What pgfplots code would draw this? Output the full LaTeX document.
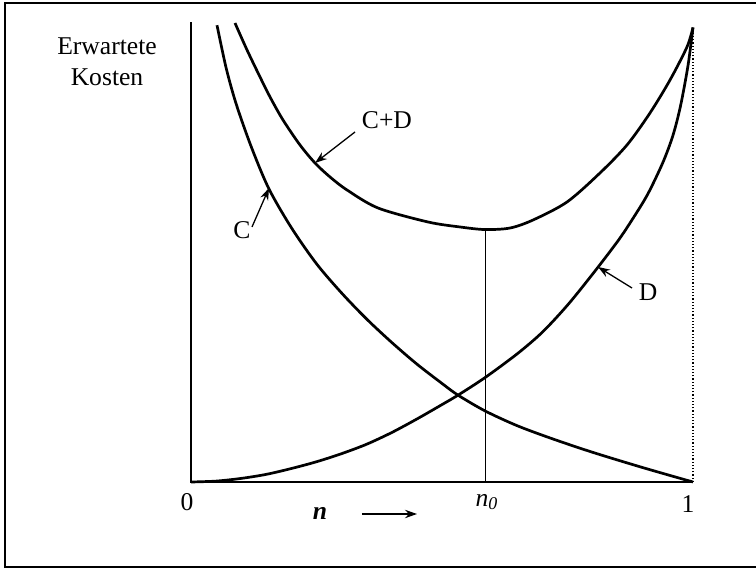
\documentclass[border=0pt]{standalone}
\usepackage{fontspec}
\setmainfont{Liberation Serif}
\usepackage{pgfplots}
\pgfplotsset{compat=1.18}
\usetikzlibrary{arrows.meta}

\newcommand{\lblfont}{\fontsize{12.8}{15.5}\selectfont}

\begin{document}
\begin{tikzpicture}[
    lbl/.style={inner sep=0pt, font=\lblfont},
    pointer/.style={line width=0.65pt, -{Stealth[length=6pt,width=4.2pt]}}]
\begin{axis}[
    width=378pt, height=284pt,
    scale only axis,
    hide axis,
    clip=false,
    xmin=-0.3805, xmax=1.1255,
    ymin=-0.1911, ymax=1.0711,
    every axis plot/.append style={no markers, black},
]
% frame (right side missing in the scan)
\addplot[line width=0.6pt] coordinates {(1.1255,1.0644) (-0.3705,1.0644) (-0.3705,-0.1889) (1.1255,-0.1889)};
% axes
\addplot[line width=0.7pt] coordinates {(0,1.022) (0,0) (1,0)};
\addplot[line width=0.6pt, densely dotted] coordinates {(1,0) (1,1.0)};
\addplot[line width=0.5pt] coordinates {(0.5857,0) (0.5857,0.561)};

% C
\addplot[line width=1.35pt, smooth] coordinates {
    (0.0518,1.015) (0.07,0.92) (0.09,0.84) (0.12,0.745) (0.155,0.652)
    (0.20,0.565) (0.25,0.485) (0.30,0.42) (0.35,0.362) (0.40,0.31)
    (0.45,0.262) (0.50,0.219) (0.5319,0.193) (0.5857,0.158) (0.65,0.125)
    (0.72,0.096) (0.80,0.066) (0.90,0.032) (1.0,0)
};
% D
\addplot[line width=1.35pt, smooth] coordinates {
    (0,0) (0.05,0.002) (0.10,0.008) (0.15,0.017) (0.20,0.030) (0.25,0.045)
    (0.30,0.063) (0.35,0.084) (0.40,0.110) (0.45,0.140) (0.50,0.172)
    (0.5319,0.193) (0.5857,0.232) (0.65,0.285) (0.70,0.333) (0.75,0.393)
    (0.80,0.462) (0.85,0.535) (0.88,0.585) (0.91,0.640) (0.94,0.710)
    (0.96,0.770) (0.975,0.835) (0.99,0.925) (1.0,1.01)
};
% C+D
\addplot[line width=1.35pt, smooth] coordinates {
    (0.0876,1.02) (0.1116,0.96) (0.1375,0.90) (0.1574,0.8556) (0.1833,0.8044)
    (0.2171,0.7489) (0.2470,0.7089) (0.2769,0.6778) (0.3108,0.6489)
    (0.3725,0.6089) (0.4721,0.5778) (0.5359,0.5667) (0.5857,0.561)
    (0.6355,0.5644) (0.6813,0.5822) (0.749,0.6222) (0.8147,0.6867)
    (0.8685,0.7489) (0.9143,0.82) (0.9542,0.8933) (0.988,0.9667) (1.0,1.01)
};

% labels
\node[lbl, align=center] at (axis cs:-0.1673,0.9333) {Erwartete\\Kosten};
\node[lbl] at (axis cs:0.3904,0.8044) {C+D};
\draw[pointer] (axis cs:0.3267,0.7778) -- (axis cs:0.2470,0.7089);
\node[lbl] at (axis cs:0.1016,0.56) {C};
\draw[pointer] (axis cs:0.1215,0.5667) -- (axis cs:0.1554,0.6533);
\node[lbl] at (axis cs:0.9104,0.4222) {D};
\draw[pointer] (axis cs:0.8785,0.4311) -- (axis cs:0.8108,0.4778);

\node[lbl] at (axis cs:-0.008,-0.0444) {0};
\node[lbl] at (axis cs:0.5896,-0.0444) {\textit{n}\textsubscript{\textit{0}}};
\node[lbl] at (axis cs:0.99,-0.0489) {1};
\node[lbl] at (axis cs:0.2570,-0.0689) {\textbf{\textit{n}}};
\draw[pointer] (axis cs:0.3406,-0.0711) -- (axis cs:0.4502,-0.0711);
\end{axis}
\pgfresetboundingbox
\path (current axis.south west) rectangle (current axis.north east);
\end{tikzpicture}
\end{document}
